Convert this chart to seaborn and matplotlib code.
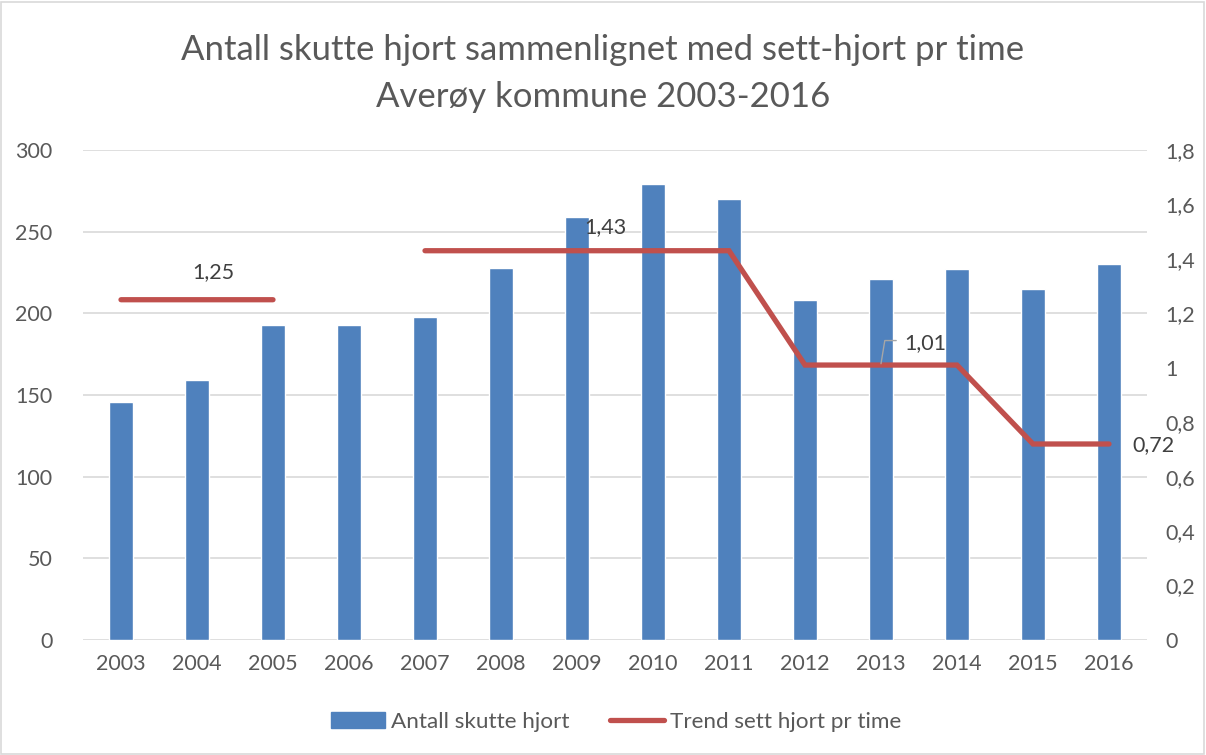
import matplotlib
matplotlib.use("Agg")
import matplotlib.pyplot as plt
import seaborn as sns
import numpy as np
import pandas as pd
from matplotlib.patches import Rectangle
from matplotlib.lines import Line2D

years = ["2003", "2004", "2005", "2006", "2007", "2008", "2009", "2010",
         "2011", "2012", "2013", "2014", "2015", "2016"]
skutte = [146, 159, 193, 193, 198, 228, 259, 279, 270, 208, 221, 227, 215, 230]
trend = [1.25, 1.25, 1.25, np.nan, 1.43, 1.43, 1.43, 1.43, 1.43, 1.01, 1.01, 1.01, 0.72, 0.72]
left_ticks = [0, 50, 100, 150, 200, 250, 300]
right_ticks = [0, 0.2, 0.4, 0.6, 0.8, 1.0, 1.2, 1.4, 1.6, 1.8]
right_labels = ["0", "0,2", "0,4", "0,6", "0,8", "1", "1,2", "1,4", "1,6", "1,8"]

sns.set_theme(style="white")
plt.rcParams["font.family"] = ["Lato", "DejaVu Sans"]

BLUE = "#4F81BD"
RED = "#C0504D"
TXT = "#595959"
FS = 15.5

fig = plt.figure(figsize=(12.06, 7.55), dpi=100)
ax = fig.add_axes([83 / 1206, 1 - 640 / 755, (1147 - 83) / 1206, (640 - 150) / 755])

df = pd.DataFrame({"year": years, "skutte": skutte})
sns.barplot(data=df, x="year", y="skutte", color=BLUE, saturation=1, width=0.32, ax=ax)
ax.set_xlim(-0.5, 13.5)
ax.set_ylim(0, 300)
ax.set_yticks(left_ticks)
ax.set_yticklabels([str(t) for t in left_ticks])
ax.set_xlabel("")
ax.set_ylabel("")
ax.yaxis.grid(True, color="#D9D9D9", linewidth=1.2)
ax.set_axisbelow(True)
for s in ax.spines.values():
    s.set_visible(False)
ax.tick_params(axis="both", colors=TXT, labelsize=FS, length=0, pad=10)
ax.tick_params(axis="y", pad=22)

ax2 = ax.twinx()
x = np.arange(len(years))
ax2.plot(x, trend, color=RED, linewidth=3.8, solid_capstyle="round", solid_joinstyle="miter")
ax2.set_ylim(0, 1.8)
ax2.set_yticks(right_ticks)
ax2.set_yticklabels(right_labels)
ax2.tick_params(axis="y", colors=TXT, labelsize=FS, length=0, pad=13)
ax2.grid(False)
for s in ax2.spines.values():
    s.set_visible(False)

lab_kw = dict(color="#404040", fontsize=FS, ha="center", va="center")
ax2.text(1.22, 1.35, "1,25", **lab_kw)
ax2.text(6.37, 1.515, "1,43", **lab_kw)
ax2.text(10.58, 1.09, "1,01", **lab_kw)
ax2.text(13.58, 0.716, "0,72", **lab_kw)
ax2.plot([10.0, 10.05, 10.2], [1.015, 1.10, 1.10], color="#A6A6A6", linewidth=1)

fig.text(0.5, 1 - 50 / 755, "Antall skutte hjort sammenlignet med sett-hjort pr time",
         ha="center", va="center", fontsize=25, color=TXT)
fig.text(0.5, 1 - 97 / 755, "Averøy kommune 2003-2016",
         ha="center", va="center", fontsize=25, color=TXT)

handles = [Rectangle((0, 0), 1, 1, color=BLUE),
           Line2D([0], [0], color=RED, linewidth=3.8, solid_capstyle="round")]
leg = fig.legend(handles, ["Antall skutte hjort", "Trend sett hjort pr time"],
                 loc="center", bbox_to_anchor=(616 / 1206, 1 - 722 / 755), ncol=2,
                 frameon=False, fontsize=16.2, handlelength=2.4, handletextpad=0.25,
                 columnspacing=1.8)
for t in leg.get_texts():
    t.set_color(TXT)

fig.patches.append(Rectangle((0.001, 0.001), 0.997, 0.997, transform=fig.transFigure,
                             fill=False, edgecolor="#D9D9D9", linewidth=1.2))

fig.savefig("out.png", dpi=100)
